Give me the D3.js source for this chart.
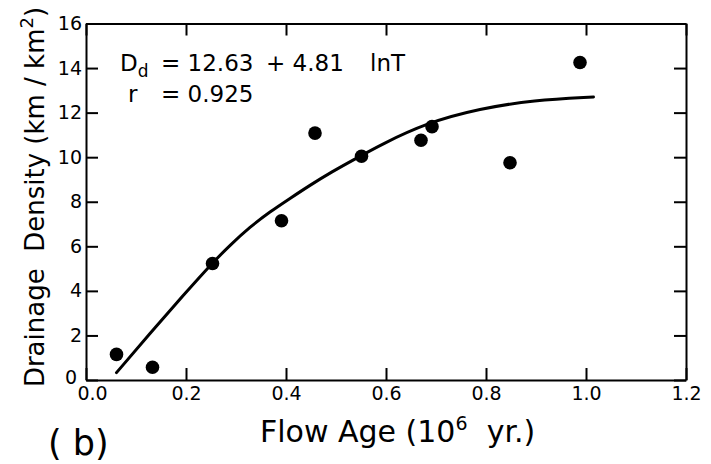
<!DOCTYPE html>
<html>
<head>
<meta charset="utf-8">
<script src="https://cdn.jsdelivr.net/npm/d3@7/dist/d3.min.js"></script>
<style>
  html, body { margin: 0; padding: 0; background: #fff; }
  svg { display: block; font-family: "DejaVu Sans", sans-serif; }
</style>
</head>
<body>
<svg id="chart" width="711" height="464"></svg>
<script>
// ---- data ----
const flowAge = [0.061, 0.133, 0.253, 0.391, 0.458, 0.551, 0.670, 0.692, 0.848, 0.988];
const drainageDensity = [1.15, 0.57, 5.23, 7.15, 11.08, 10.04, 10.76, 11.37, 9.75, 14.25];

const curveAge = [0.061, 0.128, 0.195, 0.253, 0.288, 0.328, 0.368, 0.408, 0.448, 0.488, 0.548, 0.588, 0.681, 0.788, 0.895, 1.015];
const curveDensity = [0.33, 2.09, 3.81, 5.26, 6.05, 6.87, 7.55, 8.15, 8.74, 9.30, 10.04, 10.54, 11.54, 12.18, 12.56, 12.70];

const xTicks = [0.0, 0.2, 0.4, 0.6, 0.8, 1.0, 1.2];
const yTicks = [0, 2, 4, 6, 8, 10, 12, 14, 16];

const equationText = ["D", "d", "= 12.63", "+ 4.81", "lnT"];
const rText = ["r", "= 0.925"];

// ---- layout ----
const svg = d3.select("#chart");
const mLeft = 86, mRight = 686, mTop = 23.5, mBottom = 380;

const x = d3.scaleLinear().domain([0, 1.2]).range([mLeft, mRight]);
const y = d3.scaleLinear().domain([0, 16]).range([mBottom, mTop]);

svg.append("rect").attr("width", 711).attr("height", 464).attr("fill", "#fff");

function styleAxis(g) {
  g.selectAll("path.domain").attr("stroke", "#000").attr("stroke-width", 2);
  g.selectAll(".tick line").attr("stroke", "#000").attr("stroke-width", 2);
  g.selectAll(".tick text").attr("fill", "#000").style("font-family", "DejaVu Sans").style("font-size", "19px");
}

const gx = svg.append("g").attr("transform", `translate(0,${mBottom})`)
  .call(d3.axisBottom(x).tickValues(xTicks).tickFormat(d3.format(".1f")).tickSize(-12).tickSizeOuter(0).tickPadding(7));
styleAxis(gx);
gx.selectAll(".tick text").filter(d => d === 0).attr("dx", 6);

const gxTop = svg.append("g").attr("transform", `translate(0,${mTop})`)
  .call(d3.axisTop(x).tickValues(xTicks).tickFormat("").tickSize(-12).tickSizeOuter(0));
styleAxis(gxTop);

const gy = svg.append("g").attr("transform", `translate(${mLeft},0)`)
  .call(d3.axisLeft(y).tickValues(yTicks).tickFormat(d3.format("d")).tickSize(-12).tickSizeOuter(0).tickPadding(4));
styleAxis(gy);
gy.selectAll(".tick text").filter(d => d === 0).attr("dx", -5).attr("dy", "0.2em");

const gyRight = svg.append("g").attr("transform", `translate(${mRight},0)`)
  .call(d3.axisRight(y).tickValues(yTicks).tickFormat("").tickSize(-12).tickSizeOuter(0));
styleAxis(gyRight);

// fitted curve
const curve = curveAge.map((a, i) => [a, curveDensity[i]]);
svg.append("path")
  .datum(curve)
  .attr("fill", "none")
  .attr("stroke", "#000")
  .attr("stroke-width", 3)
  .attr("stroke-linecap", "round")
  .attr("d", d3.line().x(d => x(d[0])).y(d => y(d[1])).curve(d3.curveBasis));

// points
svg.append("g").selectAll("circle")
  .data(flowAge.map((a, i) => [a, drainageDensity[i]]))
  .join("circle")
  .attr("cx", d => x(d[0]))
  .attr("cy", d => y(d[1]))
  .attr("r", 6.8)
  .attr("fill", "#000");

// equation annotation
const eq = svg.append("text").attr("y", 71).attr("font-size", 23).attr("fill", "#000");
eq.append("tspan").attr("x", 120).text(equationText[0]);
eq.append("tspan").attr("font-size", 17).attr("dy", 6).text(equationText[1]);
eq.append("tspan").attr("x", 161).attr("dy", -6).text(equationText[2]);
eq.append("tspan").attr("x", 266).text(equationText[3]);
eq.append("tspan").attr("x", 370).text(equationText[4]);

const rt = svg.append("text").attr("y", 102).attr("font-size", 23).attr("fill", "#000");
rt.append("tspan").attr("x", 128).text(rText[0]);
rt.append("tspan").attr("x", 161).text(rText[1]);

// axis titles
const xt = svg.append("text").attr("x", 260).attr("y", 442).attr("font-size", 30).attr("fill", "#000");
xt.append("tspan").text("Flow Age (10");
xt.append("tspan").attr("font-size", 19).attr("dy", -12).text("6");
xt.append("tspan").attr("dy", 12).text("\u00a0\u00a0yr.)");

const yt = svg.append("text")
  .attr("transform", "translate(44,197) rotate(-90)")
  .attr("text-anchor", "middle")
  .attr("font-size", 26).attr("fill", "#000");
yt.append("tspan").text("Drainage\u00a0 Density (km / km");
yt.append("tspan").attr("font-size", 18).attr("dy", -11).text("2");
yt.append("tspan").attr("dy", 11).text(")");

svg.append("text").attr("x", 48).attr("y", 455).attr("font-size", 35).attr("fill", "#000").text("( b)");
</script>
</body>
</html>
